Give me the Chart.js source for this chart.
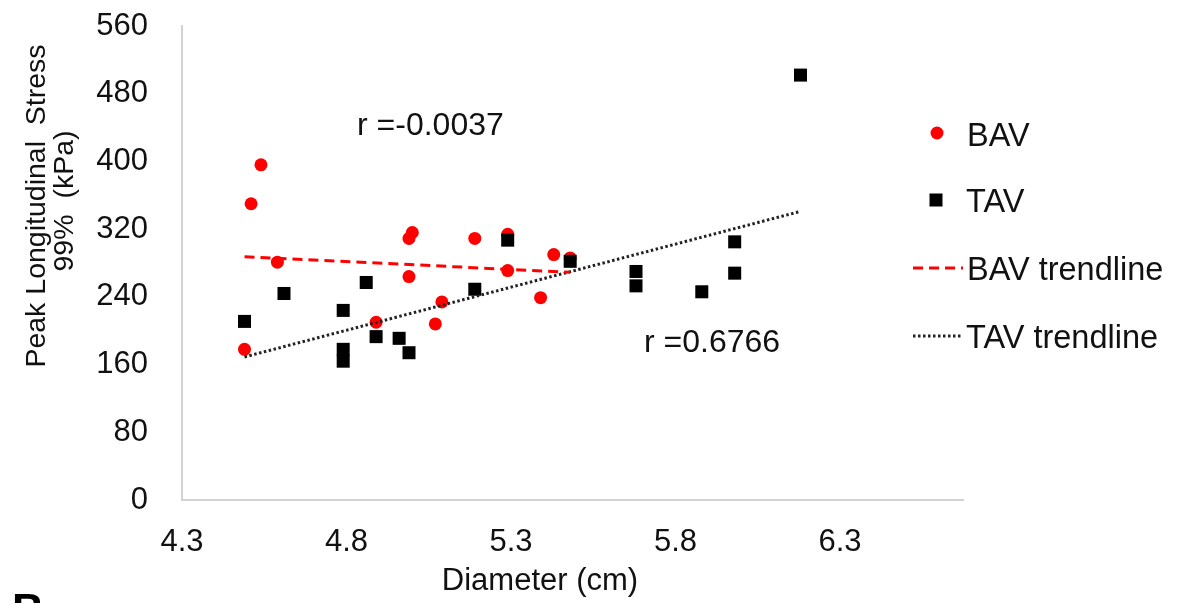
<!DOCTYPE html>
<html>
<head>
<meta charset="utf-8">
<script src="https://cdn.jsdelivr.net/npm/chart.js@4.4.1/dist/chart.umd.min.js"></script>
<style>
  html, body { margin: 0; padding: 0; background: #ffffff; }
  #wrap { width: 1179px; height: 603px; }
</style>
</head>
<body>
<div id="wrap"><canvas id="c" width="1179" height="603"></canvas></div>
<script>
// ---- data ----
const bavX = [4.54, 4.51, 4.59, 4.49, 5.00, 4.99, 4.99, 5.19, 5.09, 5.07, 4.89, 5.29, 5.29, 5.43, 5.48, 5.39];
const bavY = [396, 350, 281, 178, 316, 309, 264, 309, 234, 208, 210, 314, 271, 290, 286, 239];

const tavX = [4.49, 4.61, 4.86, 4.79, 4.79, 4.79, 4.89, 4.96, 4.99, 5.19, 5.29, 5.48, 5.68, 5.68, 5.88, 5.98, 5.98, 6.18];
const tavY = [211, 244, 257, 224, 178, 164, 193, 191, 174, 249, 307, 282, 270, 253, 246, 305, 268, 502];

const bavTrendX = [4.49, 5.48];
const bavTrendY = [287.5, 269];
const tavTrendX = [4.49, 6.18];
const tavTrendY = [169, 341];

const xTicks = [4.3, 4.8, 5.3, 5.8, 6.3];
const yTicks = [0, 80, 160, 240, 320, 400, 480, 560];

const seriesNames = ['BAV', 'TAV', 'BAV trendline', 'TAV trendline'];
const rLabels = ['r =-0.0037', 'r =0.6766'];
const xTitle = 'Diameter (cm)';
const yTitle = ['Peak Longitudinal  Stress', '99%  (kPa)'];
const panelLetter = 'B';

// ---- build ----
const pts = (xs, ys) => xs.map((x, i) => ({ x: x, y: ys[i] }));
const FONT = '"Liberation Sans", Arial, sans-serif';

const extras = {
  id: 'extras',
  afterDraw(chart) {
    const ctx = chart.ctx;
    ctx.save();
    ctx.fillStyle = '#111';
    // y title (two lines, rotated)
    ctx.font = '28.5px ' + FONT;
    ctx.textAlign = 'center';
    ctx.textBaseline = 'alphabetic';
    ctx.save(); ctx.translate(45, 206); ctx.rotate(-Math.PI / 2); ctx.fillText(yTitle[0], 0, 0); ctx.restore();
    ctx.save(); ctx.translate(73, 201); ctx.rotate(-Math.PI / 2); ctx.fillText(yTitle[1], 0, 0); ctx.restore();
    // x title
    ctx.font = '31px ' + FONT;
    ctx.fillText(xTitle, 540, 590);
    // r labels
    ctx.font = '32px ' + FONT;
    ctx.textAlign = 'left';
    ctx.fillText(rLabels[0], 357, 135);
    ctx.fillText(rLabels[1], 644, 351.5);
    // legend
    ctx.font = '32.5px ' + FONT;
    ctx.fillStyle = '#111';
    ctx.fillText(seriesNames[0], 967, 145.5);
    ctx.fillText(seriesNames[1], 966, 211.5);
    ctx.fillText(seriesNames[2], 967, 279.5);
    ctx.fillText(seriesNames[3], 966, 347.5);
    ctx.fillStyle = '#ff0000';
    ctx.beginPath(); ctx.arc(937, 133, 6.5, 0, Math.PI * 2); ctx.fill();
    ctx.fillStyle = '#000';
    ctx.fillRect(929.5, 193.5, 13, 13);
    ctx.lineWidth = 3;
    ctx.strokeStyle = '#ff0000';
    ctx.setLineDash([10, 6]);
    ctx.beginPath(); ctx.moveTo(913, 268); ctx.lineTo(963, 268); ctx.stroke();
    ctx.strokeStyle = '#222';
    ctx.setLineDash([2.5, 2.5]);
    ctx.beginPath(); ctx.moveTo(913, 336); ctx.lineTo(961, 336); ctx.stroke();
    ctx.setLineDash([]);
    // panel letter (cut at bottom)
    ctx.fillStyle = '#000';
    ctx.font = 'bold 44px ' + FONT;
    ctx.fillText(panelLetter, 12, 625);
    ctx.restore();
  }
};

new Chart(document.getElementById('c'), {
  type: 'scatter',
  data: {
    datasets: [
      { label: seriesNames[2], type: 'line', data: pts(bavTrendX, bavTrendY), borderColor: '#ff0000', borderWidth: 3, borderDash: [10, 6], pointRadius: 0, fill: false, order: 0 },
      { label: seriesNames[3], type: 'line', data: pts(tavTrendX, tavTrendY), borderColor: '#222222', borderWidth: 3, borderDash: [2.5, 2.5], pointRadius: 0, fill: false, order: 0 },
      { label: seriesNames[0], data: pts(bavX, bavY), pointStyle: 'circle', pointRadius: 6.5, pointHoverRadius: 6.5, backgroundColor: '#ff0000', borderWidth: 0, order: 2 },
      { label: seriesNames[1], data: pts(tavX, tavY), pointStyle: 'rect', pointRadius: 9.2, pointHoverRadius: 9.2, backgroundColor: '#000000', borderWidth: 0, order: 1 }
    ]
  },
  options: {
    responsive: false,
    animation: false,
    devicePixelRatio: 1,
    layout: { padding: { left: 0, top: 0, right: 216, bottom: 0 } },
    plugins: { legend: { display: false }, tooltip: { enabled: false } },
    scales: {
      x: {
        type: 'linear', min: 4.3, max: 6.674,
        grid: { display: false, drawTicks: false },
        border: { color: '#d3d3d3', width: 2 },
        afterBuildTicks: (s) => { s.ticks = xTicks.map(v => ({ value: v })); },
        afterFit: (s) => { s.height = 103; },
        ticks: { padding: 24, color: '#111', font: { family: FONT, size: 31 }, callback: (v) => Number(v).toFixed(1), maxRotation: 0 }
      },
      y: {
        type: 'linear', min: 0, max: 560,
        grid: { display: false, drawTicks: false },
        border: { color: '#d3d3d3', width: 2 },
        afterBuildTicks: (s) => { s.ticks = yTicks.map(v => ({ value: v })); },
        afterFit: (s) => { s.width = 182; s.paddingTop = 26; },
        ticks: { padding: 34, color: '#111', font: { family: FONT, size: 31 } }
      }
    }
  },
  plugins: [extras]
});
</script>
</body>
</html>
